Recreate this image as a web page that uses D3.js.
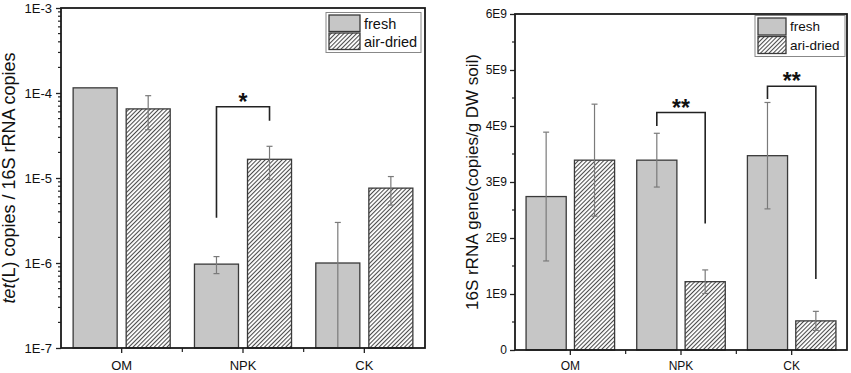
<!DOCTYPE html>
<html>
<head>
<meta charset="utf-8">
<script src="https://cdn.jsdelivr.net/npm/d3@7"></script>
<style>
  body { margin: 0; background: #fff; }
  svg { display: block; font-family: Arial, "Liberation Sans", sans-serif; }
</style>
</head>
<body>
<svg id="chart" width="851" height="373"></svg>
<script>
"use strict";

// treatments
const groups = [ 'OM', 'NPK', 'CK' ];

// left panel: tet(L) / 16S ratio
const tetFresh     = [ 1.15e-4, 9.7e-7, 1.0e-6 ];
const tetFreshSd   = [ 0,       2.2e-7, 2.0e-6 ];
const tetDried     = [ 6.5e-5,  1.66e-5, 7.6e-6 ];
const tetDriedSd   = [ 2.8e-5,  0.7e-5,  2.8e-6 ];
const tetTickLabels = [ '1E-7', '1E-6', '1E-5', '1E-4', '1E-3' ];
const tetLegend    = [ 'fresh', 'air-dried' ];
const tetMarks     = [ { group: 'NPK', top: 6.9e-5, left: 3.4e-6, right: 4.7e-5, label: '*' } ];

// right panel: 16S copies per g soil
const rnaFresh     = [ 2.74e9, 3.39e9, 3.47e9 ];
const rnaFreshSd   = [ 1.15e9, 0.48e9, 0.95e9 ];
const rnaDried     = [ 3.39e9, 1.22e9, 0.52e9 ];
const rnaDriedSd   = [ 1.0e9,  0.21e9, 0.17e9 ];
const rnaTickLabels = [ '0', '1E9', '2E9', '3E9', '4E9', '5E9', '6E9' ];
const rnaLegend    = [ 'fresh', 'ari-dried' ];
const rnaMarks     = [
  { group: 'NPK', top: 4.24e9, left: 4.0e9,  right: 2.26e9, label: '**' },
  { group: 'CK',  top: 4.71e9, left: 4.48e9, right: 1.27e9, label: '**' }
];

const series = [ 'fresh', 'dried' ];
const svg = d3.select( '#chart' );

// hatch pattern for the air-dried bars
const defs = svg.append( 'defs' );
defs.append( 'pattern' )
    .attr( 'id', 'hatch' )
    .attr( 'patternUnits', 'userSpaceOnUse' )
    .attr( 'width', 3 )
    .attr( 'height', 3 )
    .attr( 'patternTransform', 'rotate(45)' )
  .call( p => p.append( 'rect' ).attr( 'width', 3 ).attr( 'height', 3 ).attr( 'fill', '#fff' ) )
  .append( 'line' )
    .attr( 'x1', 0.5 ).attr( 'y1', 0 )
    .attr( 'x2', 0.5 ).attr( 'y2', 3 )
    .attr( 'stroke', '#4a4a4a' )
    .attr( 'stroke-width', 1.1 );

const fills = { fresh: '#c6c6c6', dried: 'url(#hatch)' };

function drawPanel( p ) {

  const x = d3.scaleBand()
              .domain( groups )
              .range( [ p.left, p.right ] );
  const x1 = d3.scaleBand()
               .domain( series )
               .range( [ x.bandwidth() * 0.1, x.bandwidth() * 0.9 ] )
               .paddingInner( 0.17 );
  const y = p.y;
  const yBottom = y.range()[0];

  const g = svg.append( 'g' );

  // rows of bar data
  const rows = [];
  groups.forEach( (grp, i) => {
    rows.push( { grp: grp, s: 'fresh', v: p.fresh[i], sd: p.freshSd[i] } );
    rows.push( { grp: grp, s: 'dried', v: p.dried[i], sd: p.driedSd[i] } );
  });

  // bars
  g.selectAll( '.bar' )
    .data( rows )
    .enter().append( 'rect' )
      .attr( 'class', 'bar' )
      .attr( 'x', d => x( d.grp ) + x1( d.s ) )
      .attr( 'width', x1.bandwidth() )
      .attr( 'y', d => y( d.v ) )
      .attr( 'height', d => yBottom - y( d.v ) )
      .attr( 'fill', d => fills[ d.s ] )
      .attr( 'stroke', '#3a3a3a' )
      .attr( 'stroke-width', 1.3 );

  // error bars
  const cx = d => x( d.grp ) + x1( d.s ) + x1.bandwidth() / 2;
  const lo = d => Math.max( d.v - d.sd, y.domain()[0] );
  const err = g.selectAll( '.err' )
    .data( rows.filter( d => d.sd > 0 ) )
    .enter().append( 'g' )
      .attr( 'class', 'err' )
      .attr( 'stroke', '#7a7a7a' )
      .attr( 'stroke-width', 1.2 );
  err.append( 'line' )
    .attr( 'x1', cx ).attr( 'x2', cx )
    .attr( 'y1', d => y( d.v + d.sd ) )
    .attr( 'y2', d => y( lo( d ) ) );
  err.append( 'line' )
    .attr( 'x1', d => cx( d ) - 3 ).attr( 'x2', d => cx( d ) + 3 )
    .attr( 'y1', d => y( d.v + d.sd ) )
    .attr( 'y2', d => y( d.v + d.sd ) );
  err.filter( d => d.v - d.sd > y.domain()[0] )
    .append( 'line' )
    .attr( 'x1', d => cx( d ) - 3 ).attr( 'x2', d => cx( d ) + 3 )
    .attr( 'y1', d => y( lo( d ) ) )
    .attr( 'y2', d => y( lo( d ) ) );

  // significance brackets
  const bx = (grp, s) => x( grp ) + x1( s ) + x1.bandwidth() / 2;
  const br = g.selectAll( '.mark' )
    .data( p.marks )
    .enter().append( 'g' )
      .attr( 'class', 'mark' );
  br.append( 'path' )
    .attr( 'd', d => 'M' + bx( d.group, 'fresh' ) + ',' + y( d.left )
                   + 'V' + y( d.top )
                   + 'H' + bx( d.group, 'dried' )
                   + 'V' + y( d.right ) )
    .attr( 'fill', 'none' )
    .attr( 'stroke', '#222' )
    .attr( 'stroke-width', 1.6 );
  br.append( 'text' )
    .attr( 'x', d => ( bx( d.group, 'fresh' ) + bx( d.group, 'dried' ) ) / 2 )
    .attr( 'y', d => y( d.top ) + 3 )
    .attr( 'text-anchor', 'middle' )
    .style( 'font-size', '23px' )
    .attr( 'font-weight', 'bold' )
    .attr( 'fill', '#111' )
    .text( d => d.label );

  // x-axis
  const xAxis = g.append( 'g' )
    .attr( 'transform', 'translate(0,' + yBottom + ')' )
    .call( d3.axisBottom( x ).tickSize( 5 ).tickSizeOuter( 0 ) );
  xAxis.select( '.domain' ).remove();
  xAxis.selectAll( '.tick line' ).attr( 'stroke', '#222' ).attr( 'stroke-width', 1.3 );
  xAxis.selectAll( '.tick text' )
    .attr( 'dy', 0 )
    .attr( 'y', p.catY )
    .attr( 'dominant-baseline', 'central' )
    .style( 'font-size', p.catSize + 'px' )
    .style( 'font-family', 'Arial, "Liberation Sans", sans-serif' )
    .attr( 'fill', '#111' );
  // minor ticks between groups
  g.selectAll( '.xminor' )
    .data( groups.slice( 1 ) )
    .enter().append( 'line' )
      .attr( 'x1', d => x( d ) ).attr( 'x2', d => x( d ) )
      .attr( 'y1', yBottom ).attr( 'y2', yBottom + 4 )
      .attr( 'stroke', '#222' ).attr( 'stroke-width', 1.2 );

  // y-axis
  const yAxis = g.append( 'g' )
    .attr( 'transform', 'translate(' + p.left + ',0)' )
    .call( d3.axisLeft( y )
             .tickValues( p.majors )
             .tickFormat( (d, i) => p.tickLabels[i] )
             .tickSize( 5 )
             .tickPadding( p.tickPad )
             .tickSizeOuter( 0 ) );
  yAxis.select( '.domain' ).remove();
  yAxis.selectAll( '.tick line' ).attr( 'stroke', '#222' ).attr( 'stroke-width', 1.3 );
  yAxis.selectAll( '.tick text' )
    .style( 'font-size', p.tickSize + 'px' )
    .style( 'font-family', 'Arial, "Liberation Sans", sans-serif' )
    .attr( 'fill', '#111' );
  g.selectAll( '.yminor' )
    .data( p.minors )
    .enter().append( 'line' )
      .attr( 'x1', p.left - 3 ).attr( 'x2', p.left )
      .attr( 'y1', d => y( d ) ).attr( 'y2', d => y( d ) )
      .attr( 'stroke', '#222' ).attr( 'stroke-width', 1.2 );

  // frame
  g.append( 'rect' )
    .attr( 'x', p.left )
    .attr( 'y', y.range()[1] )
    .attr( 'width', p.right - p.left )
    .attr( 'height', yBottom - y.range()[1] )
    .attr( 'fill', 'none' )
    .attr( 'stroke', '#1a1a1a' )
    .attr( 'stroke-width', 1.8 );

  // y-axis title
  const title = g.append( 'text' )
    .attr( 'transform', 'translate(' + p.titleX + ',' + ( ( yBottom + y.range()[1] ) / 2 ) + ') rotate(-90)' )
    .attr( 'text-anchor', 'middle' )
    .attr( 'dominant-baseline', 'central' )
    .style( 'font-size', p.titleSize + 'px' )
    .attr( 'fill', '#111' );
  p.title.forEach( t => {
    title.append( 'tspan' )
      .attr( 'font-style', t.italic ? 'italic' : null )
      .text( t.text );
  });

  // legend
  const lg = g.append( 'g' )
    .attr( 'transform', 'translate(' + p.legend.x + ',' + p.legend.y + ')' );
  lg.append( 'rect' )
    .attr( 'width', p.legend.w )
    .attr( 'height', p.legend.h )
    .attr( 'fill', '#fff' )
    .attr( 'stroke', '#888' )
    .attr( 'stroke-width', 1 );
  const rowH = ( p.legend.h - 4 ) / 2;
  series.forEach( (s, i) => {
    lg.append( 'rect' )
      .attr( 'x', 3 )
      .attr( 'y', 2.5 + i * rowH )
      .attr( 'width', p.legend.sw )
      .attr( 'height', rowH - 1.5 )
      .attr( 'fill', fills[ s ] )
      .attr( 'stroke', '#3a3a3a' )
      .attr( 'stroke-width', 1.3 );
    lg.append( 'text' )
      .attr( 'x', p.legend.sw + 7 )
      .attr( 'y', 2 + i * rowH + rowH / 2 )
      .attr( 'dominant-baseline', 'central' )
      .style( 'font-size', p.legend.fs + 'px' )
      .attr( 'fill', '#111' )
      .text( p.legendLabels[i] );
  });
}

// log minors 2..9 per decade
const logMinors = [];
[ 1e-7, 1e-6, 1e-5, 1e-4 ].forEach( dec => {
  for( let k = 2; k <= 9; k++ ) { logMinors.push( dec * k ); }
});

drawPanel( {
  left: 61, right: 425,
  y: d3.scaleLog().domain( [ 1e-7, 1e-3 ] ).range( [ 348, 8 ] ),
  fresh: tetFresh, freshSd: tetFreshSd,
  dried: tetDried, driedSd: tetDriedSd,
  marks: tetMarks,
  majors: [ 1e-7, 1e-6, 1e-5, 1e-4, 1e-3 ],
  minors: logMinors,
  tickLabels: tetTickLabels,
  tickSize: 13, tickPad: 4,
  catSize: 13, catY: 17,
  titleX: 9, titleSize: 18,
  title: [ { text: 'tet', italic: true }, { text: '(L) copies / 16S rRNA copies' } ],
  legend: { x: 326, y: 12.5, w: 95, h: 40, sw: 31, fs: 14.5 },
  legendLabels: tetLegend
} );

drawPanel( {
  left: 515, right: 847,
  y: d3.scaleLinear().domain( [ 0, 6e9 ] ).range( [ 350, 14 ] ),
  fresh: rnaFresh, freshSd: rnaFreshSd,
  dried: rnaDried, driedSd: rnaDriedSd,
  marks: rnaMarks,
  majors: d3.range( 0, 7 ).map( k => k * 1e9 ),
  minors: d3.range( 0, 6 ).map( k => ( k + 0.5 ) * 1e9 ),
  tickLabels: rnaTickLabels,
  tickSize: 12, tickPad: 3,
  catSize: 12, catY: 16,
  titleX: 472, titleSize: 17,
  title: [ { text: '16S rRNA gene(copies/g DW soil)' } ],
  legend: { x: 755, y: 15.5, w: 90, h: 41, sw: 28, fs: 13.5 },
  legendLabels: rnaLegend
} );
</script>
</body>
</html>
